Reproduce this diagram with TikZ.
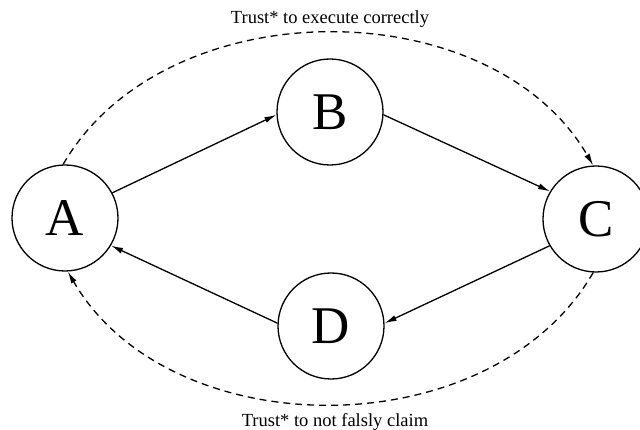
\documentclass[tikz,border=0pt]{standalone}
\usepackage{fontspec}
\setmainfont{Liberation Serif}
\usetikzlibrary{arrows.meta}
\begin{document}
\begin{tikzpicture}[x=1pt, y=-1pt]
    % Define Styles
        \tikzstyle{party} = [circle, draw, fill=white, minimum size=106pt, inner sep=0pt, line width=1.3pt, font=\fontsize{53}{53}\selectfont]
        \tikzstyle{line} = [draw, -{Latex[length=12pt, width=6pt]}, line width=1.3pt]
        \tikzstyle{trust} = [line, dash pattern=on 7pt off 5pt]
        \tikzstyle{note} = [anchor=base, inner sep=0pt, font=\fontsize{18.5}{20}\selectfont]
        \useasboundingbox (0,0) rectangle (640,430);
    % Place nodes
        \node [party] (a) at (65,218) {A};
        \node [party] (b) at (330,112) {B};
        \node [party] (c) at (596,219) {C};
        \node [party] (d) at (331,326) {D};
        \node [note] (correct) at (330,24) {Trust* to execute correctly};
        \node [note] (claim) at (335,426.5) {Trust* to not falsly claim};
    % Edges
        \draw[line] (a.28) -- (b.183);
        \draw[line] (b.357) -- (c.149);
        \draw[line] (c.210) -- (d.3);
        \draw[line] (d.177) -- (a.329);
        \draw[trust] (a.92) .. controls +(102,-176) and +(-102,-176) .. (c.93);
        \draw[trust] (c.267) .. controls +(-102,176) and +(102,176) .. (a.273);
\end{tikzpicture}
\end{document}
